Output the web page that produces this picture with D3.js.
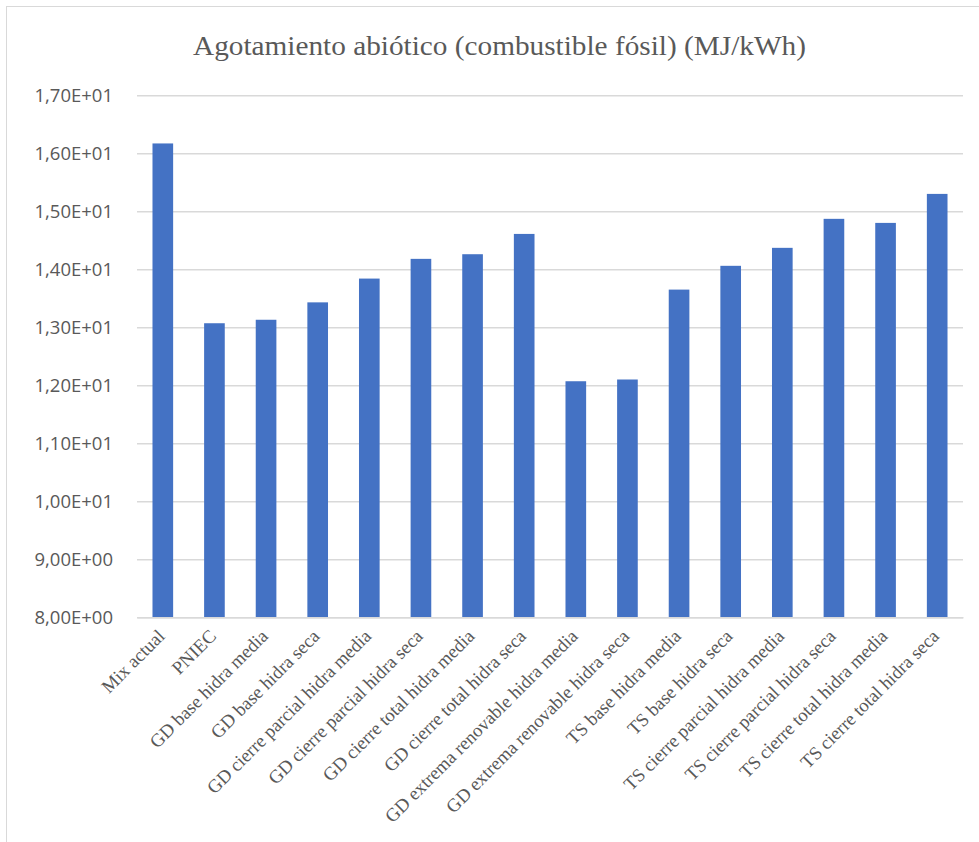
<!DOCTYPE html>
<html>
<head>
<meta charset="utf-8">
<script src="https://cdn.jsdelivr.net/npm/d3@7/dist/d3.min.js"></script>
<style>
  html, body { margin: 0; padding: 0; background: #fff; }
  svg { display: block; }
</style>
</head>
<body>
<svg id="chart" width="979" height="842"></svg>
<script>
// Escenarios y valores de agotamiento abiótico (MJ/kWh)
const categories = [
  "Mix actual",
  "PNIEC",
  "GD base hidra media",
  "GD base hidra seca",
  "GD cierre parcial hidra media",
  "GD cierre parcial hidra seca",
  "GD cierre total hidra media",
  "GD cierre total hidra seca",
  "GD extrema renovable hidra media",
  "GD extrema renovable hidra seca",
  "TS base hidra media",
  "TS base hidra seca",
  "TS cierre parcial hidra media",
  "TS cierre parcial hidra seca",
  "TS cierre total hidra media",
  "TS cierre total hidra seca"
];
const values = [
  16.17, 13.07, 13.13, 13.43, 13.84, 14.18, 14.26, 14.61,
  12.07, 12.10, 13.65, 14.06, 14.37, 14.87, 14.80, 15.30
];
const yTicks = [8, 9, 10, 11, 12, 13, 14, 15, 16, 17];
const title = "Agotamiento abiótico (combustible fósil) (MJ/kWh)";

const svg = d3.select("#chart");
const W = 979, H = 842;
const plot = { left: 137, right: 963, top: 95.3, bottom: 617.3 };

// Marco del gráfico
svg.append("rect")
  .attr("x", 6.5).attr("y", 6.5)
  .attr("width", W + 10).attr("height", H + 10)
  .attr("fill", "#fff")
  .attr("stroke", "#d9d9d9").attr("stroke-width", 1);

const x = d3.scaleBand()
  .domain(categories)
  .range([plot.left, plot.right])
  .paddingInner(0.6)
  .paddingOuter(0.3);

const y = d3.scaleLinear()
  .domain([8, 17])
  .range([plot.bottom, plot.top]);

// Formato tipo "1,70E+01"
function sci(v) {
  const e = Math.floor(Math.log10(Math.abs(v)));
  const m = v / Math.pow(10, e);
  const sign = e < 0 ? "-" : "+";
  const ee = String(Math.abs(e)).padStart(2, "0");
  return m.toFixed(2).replace(".", ",") + "E" + sign + ee;
}

// Líneas de cuadrícula horizontales y etiquetas del eje Y
const yAxis = d3.axisLeft(y)
  .tickValues(yTicks)
  .tickSize(-(plot.right - plot.left))
  .tickPadding(24)
  .tickFormat(sci);

const gy = svg.append("g")
  .attr("transform", `translate(${plot.left},0)`)
  .call(yAxis);
gy.select(".domain").remove();
gy.selectAll(".tick line")
  .attr("stroke", "#d9d9d9")
  .attr("stroke-width", 1.5);
gy.selectAll(".tick text")
  .attr("fill", "#595959")
  .attr("font-family", "'Open Sans', 'Liberation Sans', sans-serif")
  .attr("font-size", "18.5px");

// Barras
svg.append("g")
  .selectAll("rect")
  .data(values)
  .join("rect")
  .attr("x", (d, i) => x(categories[i]))
  .attr("width", x.bandwidth())
  .attr("y", d => y(d))
  .attr("height", d => y(8) - y(d))
  .attr("fill", "#4472C4");

// Eje de categorías con etiquetas inclinadas
const xAxis = d3.axisBottom(x).tickSize(0).tickPadding(0);
const gx = svg.append("g")
  .attr("transform", `translate(0,${plot.bottom})`)
  .call(xAxis);
gx.select(".domain")
  .attr("stroke", "#d9d9d9")
  .attr("stroke-width", 1.5);
gx.selectAll(".tick text")
  .attr("fill", "#595959")
  .attr("font-family", "'Liberation Serif', 'Times New Roman', serif")
  .attr("font-size", "18.7px")
  .attr("text-anchor", "end")
  .attr("y", 0)
  .attr("dy", "0")
  .attr("transform", "translate(3,20) rotate(-45)");

// Título
svg.append("text")
  .attr("x", 499.5)
  .attr("y", 54.5)
  .attr("text-anchor", "middle")
  .attr("fill", "#595959")
  .attr("font-family", "'Liberation Serif', 'Times New Roman', serif")
  .attr("font-size", "27px")
  .attr("textLength", 613)
  .attr("lengthAdjust", "spacingAndGlyphs")
  .text(title);
</script>
</body>
</html>
